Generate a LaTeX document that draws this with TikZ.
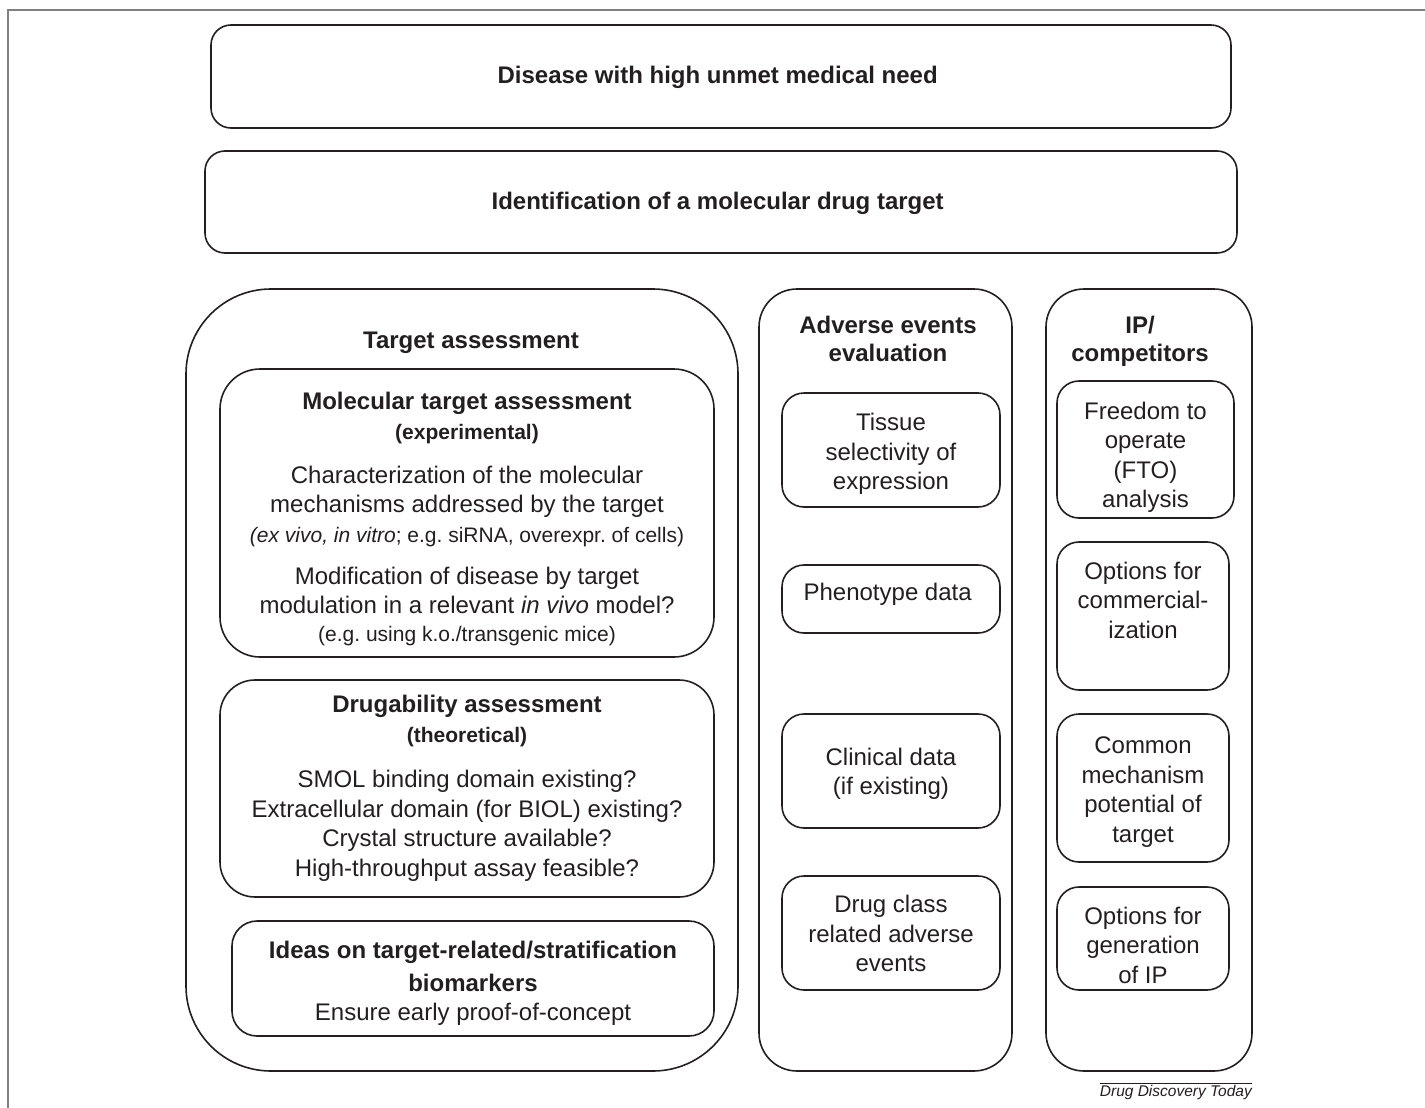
\documentclass[tikz,border=0pt]{standalone}
\usepackage{fontspec}
\setmainfont{Liberation Sans}
\usetikzlibrary{shapes,positioning}
\definecolor{ink}{HTML}{231F20}
\definecolor{framegray}{HTML}{808080}
\newcommand{\smalltxt}{\fontsize{21}{25}\selectfont}
% push the first line of a node down by #1
\newcommand{\dropby}[1]{\rule{0pt}{\dimexpr 17.2pt+#1*2\relax}}
\frenchspacing
\begin{document}
\begin{tikzpicture}[x=1pt, y=-1pt]
    % Define Styles
        \tikzstyle{block} = [
            rectangle,
            draw = ink,
            text = ink,
            rounded corners = 20pt,
            line width = 1.6pt,
            inner sep = 0pt,
            align = center,
            font = \fontsize{24}{29.5}\selectfont
        ]
        \tikzstyle{column} = [
            block,
            rounded corners = 38pt,
            minimum height = 782pt
        ]
        \tikzstyle{inbox} = [
            block,
            rounded corners = 22pt,
            minimum width = 218pt,
            minimum height = 114pt
        ]
        \tikzstyle{heading} = [
            align = center,
            text = ink,
            inner sep = 0pt,
            font = \fontsize{24}{28}\selectfont\bfseries
        ]
    \useasboundingbox (0,0) rectangle (1425,1108);
    % Draw frame
        \coordinate (frame-bl) at (8,1108);
        \coordinate (frame-tl) at (8,10);
        \coordinate (frame-tr) at (1425,10);
        \draw [framegray, line width = 2pt] (frame-bl) -- (frame-tl) -- (frame-tr);
    % Place nodes
        \node [block, minimum width = 1020pt, minimum height = 103pt] (disease) at (721,76.5) {%
            \dropby{1pt}\bfseries Disease with high unmet medical need
        };
        \node [block, minimum width = 1032pt, minimum height = 102pt] (ident) at (721,202) {%
            \dropby{1pt}\bfseries Identification of a molecular drug target
        };
    % Target assessment
        \node [column, rounded corners = 85pt, minimum width = 552pt] (target) at (462,680) {};
        \node [heading] (target-head) at (471,339) {\dropby{3pt}Target assessment};
        \node [block, rounded corners = 40pt, minimum width = 494pt, minimum height = 288pt] (molecular) at (467,513) {
            \dropby{6pt}\textbf{Molecular target assessment} \\
            {\smalltxt\bfseries (experimental)} \\[14.5pt]
            Characterization of the molecular \\
            mechanisms addressed by the target \\
            {\smalltxt\textit{(ex vivo, in vitro}; e.g. siRNA, overexpr. of cells)} \\[12.5pt]
            Modification of disease by target \\
            modulation in a relevant \textit{in vivo} model? \\[-2pt]
            {\smalltxt (e.g. using k.o./transgenic mice)}
        };
        \node [block, rounded corners = 35pt, minimum width = 494pt, minimum height = 217pt] (drugability) at (467,788.5) {
            \textbf{Drugability assessment} \\
            {\smalltxt\bfseries (theoretical)} \\[16pt]
            SMOL binding domain existing? \\
            Extracellular domain (for BIOL) existing? \\
            Crystal structure available? \\
            High-throughput assay feasible?
        };
        \node [block, rounded corners = 25pt, minimum width = 482pt, minimum height = 115pt] (ideas) at (473,978.5) {
            \dropby{5pt}\textbf{Ideas on target-related/stratification} \\[3.5pt]
            \textbf{biomarkers} \\
            Ensure early proof-of-concept
        };
    % Adverse events evaluation
        \node [column, minimum width = 253pt] (adverse) at (885.5,680) {};
        \node [heading] (adverse-head) at (888,339) {Adverse events \\ evaluation};
        \node [inbox] (tissue) at (891,450) {
            \dropby{4pt}Tissue \\
            selectivity of \\
            expression
        };
        \node [inbox, minimum height = 68pt, text depth = 15pt] (phenotype) at (891,599) {
            Phenotype data
        };
        \node [inbox] (clinical) at (891,771) {
            \dropby{3pt}Clinical data \\
            (if existing)
        };
        \node [inbox] (drugclass) at (891,933) {
            \dropby{1pt}Drug class \\
            related adverse \\
            events
        };
    % IP/competitors
        \node [column, minimum width = 206pt] (ip) at (1149,680) {};
        \node [heading] (ip-head) at (1140,338.5) {\dropby{3pt}IP/ \\ competitors};
        \node [inbox, minimum width = 177pt, minimum height = 137pt] (fto) at (1145.5,449.5) {
            \dropby{8pt}Freedom to \\
            operate \\
            (FTO) \\
            analysis
        };
        \node [inbox, minimum width = 172pt, minimum height = 148pt, text depth = 32pt] (commercial) at (1143,616) {
            Options for \\
            commercial- \\
            ization
        };
        \node [inbox, minimum width = 172pt, minimum height = 148pt] (mechanism) at (1143,788) {
            \dropby{4pt}Common \\
            mechanism \\
            potential of \\
            target
        };
        \node [inbox, minimum width = 172pt, minimum height = 103pt] (generation) at (1143,938.5) {
            \dropby{7pt}Options for \\
            generation \\
            of IP
        };
    % Credit line
        \node [anchor = north east, inner xsep = 0pt, inner ysep = 2pt, text = ink,
            font = \fontsize{15.5}{18}\selectfont\itshape] (credit) at (1252,1083) {Drug Discovery Today};
        \draw [ink, line width = 0.8pt] (credit.north west) -- (credit.north east);
\end{tikzpicture}
\end{document}
